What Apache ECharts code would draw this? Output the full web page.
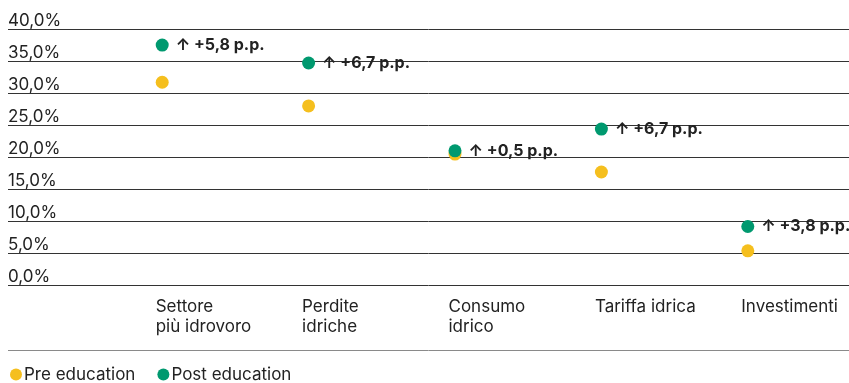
<!DOCTYPE html>
<html>
<head>
<meta charset="utf-8">
<script src="https://cdn.jsdelivr.net/npm/echarts@6/dist/echarts.min.js"></script>
<style>
  html, body { margin: 0; padding: 0; background: #ffffff; }
  #chart { width: 849px; height: 383px; }
</style>
</head>
<body>
<div id="chart"></div>
<script>
// Share of respondents, before and after the education module
const categories = ['Settore\npiù idrovoro', 'Perdite\nidriche', 'Consumo\nidrico', 'Tariffa idrica', 'Investimenti'];
const preEducation = [31.7, 28.0, 20.5, 17.7, 5.4];
const postEducation = [37.5, 34.7, 21.0, 24.4, 9.2];
const yMin = 0;
const yMax = 40;
const yStep = 5;

const FONT = 'Inter';
const YELLOW = '#F5BF1E';
const GREEN = '#00996F';
const TEXT = '#222222';

const fmtPct = v => v.toFixed(1).replace('.', ',') + '%';
const fmtDelta = i => {
  const d = postEducation[i] - preEducation[i];
  return '↑ +' + d.toFixed(1).replace('.', ',') + ' p.p.';
};

const chart = echarts.init(document.getElementById('chart'), null, { renderer: 'canvas' });

const plotTop = 29;
const plotBottom = 97.5;

chart.setOption({
  animation: false,
  textStyle: { fontFamily: FONT },
  grid: [
    // full-width grid for the horizontal rules and the percentage labels
    { left: 8, right: 0, top: plotTop, bottom: plotBottom, containLabel: false },
    // grid holding the dots
    { left: 89, right: 28, top: plotTop, bottom: plotBottom, containLabel: false },
    // grid holding the category names, left-aligned slightly before each dot
    { left: 82.5, right: 34.5, top: plotTop, bottom: plotBottom, containLabel: false }
  ],
  xAxis: [
    { gridIndex: 0, type: 'category', data: categories, show: false },
    { gridIndex: 1, type: 'category', data: categories, show: false },
    {
      gridIndex: 2, type: 'category', data: categories,
      axisLine: { show: false }, axisTick: { show: false },
      axisLabel: {
        align: 'left', verticalAlign: 'top', margin: 11,
        fontFamily: FONT, fontSize: 17, lineHeight: 20, color: TEXT,
        interval: 0
      }
    }
  ],
  yAxis: [
    {
      gridIndex: 0, type: 'value', min: yMin, max: yMax, interval: yStep,
      axisLine: { show: false }, axisTick: { show: false },
      splitLine: { show: true, lineStyle: { color: '#333333', width: 1 } },
      axisLabel: {
        inside: true, align: 'left', verticalAlign: 'bottom', margin: 0,
        fontFamily: FONT, fontSize: 17, color: TEXT,
        formatter: fmtPct
      }
    },
    { gridIndex: 1, type: 'value', min: yMin, max: yMax, interval: yStep, show: false, splitLine: { show: false } },
    { gridIndex: 2, type: 'value', min: yMin, max: yMax, interval: yStep, show: false, splitLine: { show: false } }
  ],
  legend: {
    left: 10, top: 366, padding: 0, itemGap: 22,
    itemWidth: 12, itemHeight: 12, icon: 'circle',
    textStyle: { fontFamily: FONT, fontSize: 17, color: TEXT, padding: [0, 0, 0, -3] },
    data: ['Pre education', 'Post education']
  },
  graphic: [
    {
      type: 'line', silent: true,
      shape: { x1: 8, y1: 350.5, x2: 849, y2: 350.5 },
      style: { stroke: '#8a8a8a', lineWidth: 1 }
    }
  ],
  series: [
    {
      name: 'Pre education', type: 'scatter', xAxisIndex: 1, yAxisIndex: 1,
      symbol: 'circle', symbolSize: 13,
      itemStyle: { color: YELLOW, opacity: 1 },
      data: preEducation
    },
    {
      name: 'Post education', type: 'scatter', xAxisIndex: 1, yAxisIndex: 1,
      symbol: 'circle', symbolSize: 13,
      itemStyle: { color: GREEN, opacity: 1 },
      label: {
        show: true, position: 'right', distance: 7,
        fontFamily: FONT, fontSize: 16, fontWeight: 'bold', color: TEXT,
        formatter: p => fmtDelta(p.dataIndex)
      },
      data: postEducation
    }
  ]
});
</script>
</body>
</html>
